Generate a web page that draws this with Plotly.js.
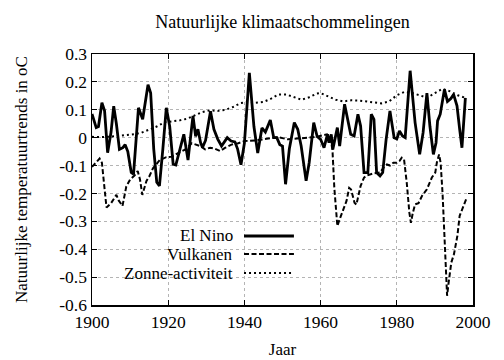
<!DOCTYPE html>
<html>
<head>
<meta charset="utf-8">
<script src="https://cdn.plot.ly/plotly-3.0.1.min.js"></script>
<style>html,body{margin:0;padding:0;background:#fff}#chart{width:504px;height:360px}</style>
</head>
<body>
<div id="chart"></div>
<script>
// El Nino (solid)
var elNinoYears = [1900.0,1900.5,1901.1,1901.7,1902.6,1903.3,1904.1,1905.0,1905.7,1906.4,1907.2,1908.1,1908.7,1909.4,1910.3,1910.9,1911.6,1912.2,1913.3,1914.7,1915.4,1916.2,1917.0,1917.7,1918.6,1919.5,1920.4,1921.3,1922.0,1923.0,1924.1,1925.2,1926.5,1927.2,1927.8,1928.5,1929.0,1929.8,1931.1,1932.0,1933.0,1934.0,1935.5,1936.5,1937.5,1938.2,1939.1,1940.0,1941.3,1942.5,1943.5,1944.6,1945.5,1946.8,1947.7,1948.5,1949.3,1950.0,1950.8,1951.8,1953.1,1954.0,1954.9,1956.2,1957.0,1958.2,1959.1,1960.0,1960.9,1961.8,1962.2,1962.8,1963.2,1964.4,1965.0,1966.3,1967.2,1967.9,1968.8,1969.8,1970.5,1971.4,1972.4,1973.3,1974.0,1974.7,1975.6,1976.3,1977.2,1978.2,1979.3,1980.0,1980.7,1981.5,1982.2,1983.5,1984.8,1986.0,1986.9,1987.9,1988.7,1989.6,1990.3,1990.7,1991.4,1992.5,1993.3,1994.2,1994.9,1995.8,1996.5,1997.1,1998.0];
var elNinoValues = [0.085,0.06,0.036,0.04,0.125,0.096,-0.054,0.02,0.113,0.05,-0.042,-0.036,-0.025,-0.05,-0.125,-0.131,0.0,0.107,0.066,0.19,0.16,-0.04,-0.16,-0.173,-0.04,0.107,0.04,-0.095,-0.098,-0.045,0.012,-0.08,0.078,0.005,0.03,-0.018,-0.035,-0.01,0.095,0.03,-0.005,-0.03,0.0,-0.012,-0.015,-0.04,-0.097,-0.02,0.232,0.04,-0.055,0.035,0.02,0.063,0.0,0.0,-0.025,-0.03,-0.167,-0.04,0.054,0.03,-0.03,-0.155,-0.09,0.054,0.004,-0.006,-0.036,0.012,-0.018,0.012,-0.042,0.036,-0.03,0.12,0.066,0.012,0.006,0.084,0.042,-0.125,-0.125,0.084,0.066,-0.125,-0.137,-0.125,-0.006,0.096,0.0,-0.004,0.024,0.006,0.0,0.24,0.054,-0.06,0.018,0.16,0.04,-0.06,-0.018,0.06,0.084,0.173,0.13,0.14,0.155,0.114,0.03,-0.036,0.143];

// Vulkanen (dashed)
var vulkYears = [1900,1901,1902,1902.6,1903.8,1905,1906.4,1907,1908,1909,1910,1911.2,1912,1912.6,1913.2,1914.3,1915,1916,1917.8,1919.5,1921,1922.6,1924.4,1926.2,1928.4,1929.7,1931,1932.3,1933.6,1935,1936.6,1938.4,1940.2,1942.8,1945.4,1948.9,1951.4,1954,1956.7,1959.3,1961,1961.7,1962.4,1963.1,1963.6,1964.4,1964.8,1965.9,1966.8,1967.5,1968,1968.9,1969.4,1970.5,1971.4,1972.3,1973.9,1975.6,1976.5,1977.4,1978.2,1979.1,1980,1980.7,1981.3,1981.9,1982.6,1983.3,1983.7,1984.2,1984.8,1985.7,1986.6,1987.9,1989.2,1990.1,1990.5,1991.1,1991.5,1992,1992.5,1992.9,1993.2,1993.6,1994.3,1995,1995.9,1996.5,1997.4,1998.2];
var vulkValues = [-0.105,-0.09,-0.075,-0.09,-0.25,-0.235,-0.205,-0.225,-0.245,-0.175,-0.15,-0.135,-0.12,-0.15,-0.205,-0.155,-0.14,-0.11,-0.08,-0.07,-0.068,-0.055,-0.043,-0.02,-0.03,-0.042,-0.036,-0.04,-0.048,-0.036,-0.025,-0.02,-0.012,-0.01,-0.004,0.002,-0.006,-0.004,0.0,0.004,0.008,0.012,0.004,-0.04,-0.18,-0.317,-0.3,-0.257,-0.227,-0.18,-0.186,-0.233,-0.24,-0.173,-0.143,-0.135,-0.128,-0.125,-0.108,-0.096,-0.1,-0.09,-0.09,-0.084,-0.072,-0.078,-0.16,-0.269,-0.305,-0.27,-0.239,-0.235,-0.209,-0.185,-0.143,-0.125,-0.09,-0.06,-0.09,-0.197,-0.352,-0.508,-0.567,-0.52,-0.448,-0.418,-0.352,-0.28,-0.251,-0.221];

// Zonne-activiteit (dotted)
var zonYears = [1900,1903,1906,1909,1911,1913,1915,1917,1919,1921,1923,1925,1927,1929,1931,1933,1935,1937,1939,1941,1943,1945,1947,1949,1951,1953,1955,1957,1959,1960,1962,1964,1966,1968,1970,1972,1974,1976,1978,1980,1982,1984,1986,1988,1990,1992,1994,1996,1998];
var zonValues = [0.003,0.002,0.005,0.008,0.012,0.018,0.028,0.04,0.055,0.058,0.062,0.068,0.08,0.092,0.098,0.096,0.1,0.11,0.124,0.128,0.125,0.128,0.14,0.155,0.155,0.145,0.136,0.145,0.158,0.16,0.148,0.136,0.13,0.134,0.133,0.13,0.128,0.123,0.13,0.152,0.164,0.16,0.152,0.143,0.16,0.175,0.166,0.152,0.143];

var seriesNames = ["El Nino", "Vulkanen", "Zonne-activiteit"];
var yTickVals = [0.3,0.2,0.1,0,-0.1,-0.2,-0.3,-0.4,-0.5,-0.6];
var yTickText = ["0.3","0.2","0.1","0","-0.1","-0.2","-0.3","-0.4","-0.5","-0.6"];
var xTickVals = [1900,1920,1940,1960,1980,2000];
var xTickText = ["1900","1920","1940","1960","1980","2000"];

var FONT = "Liberation Serif";
var styles = [
  {color:"#000", width:2.8, dash:"solid"},
  {color:"#000", width:2, dash:"5px,2.5px"},
  {color:"#000", width:2, dash:"2px,3px"}
];

var traces = [
  {x: elNinoYears, y: elNinoValues, name: seriesNames[0], mode:"lines", line: styles[0]},
  {x: vulkYears, y: vulkValues, name: seriesNames[1], mode:"lines", line: styles[1]},
  {x: zonYears, y: zonValues, name: seriesNames[2], mode:"lines", line: styles[2]}
];

// gnuplot-style legend (text left, line sample right)
var legRows = [0.275, 0.203, 0.127];
var annotations = [];
var shapes = [];
for (var i = 0; i < seriesNames.length; i++) {
  annotations.push({xref:"paper", yref:"paper", x:0.372, y:legRows[i], xanchor:"right", yanchor:"middle",
    text: seriesNames[i], showarrow:false, borderpad:0, font:{family:FONT, size:17, color:"#000"}});
  shapes.push({type:"line", xref:"paper", yref:"paper", x0:0.399, x1:0.530, y0:legRows[i], y1:legRows[i],
    line:{color:"#000", width:styles[i].width, dash:styles[i].dash}});
}

function axisBase() {
  return {
    showline:true, linecolor:"#000", linewidth:1.5, mirror:"ticks",
    ticks:"inside", ticklen:5, tickcolor:"#000", tickwidth:1,
    showgrid:true, gridcolor:"#b4b4b4", griddash:"dot", gridwidth:1,
    zeroline:false, tickfont:{family:FONT, size:17.5, color:"#000"}
  };
}

var layout = {
  width:504, height:360,
  margin:{l:92, r:31, t:54, b:55},
  paper_bgcolor:"#fff", plot_bgcolor:"#fff",
  showlegend:false,
  font:{family:FONT, size:17, color:"#000"},
  title:{text:"Natuurlijke klimaatschommelingen", font:{family:FONT, size:18, color:"#000"},
         x:0.5, xref:"paper", y:1-22/360, yref:"container", yanchor:"middle"},
  xaxis: Object.assign(axisBase(), {range:[1900,2000], tickvals:xTickVals, ticktext:xTickText,
         title:{text:"Jaar", font:{family:FONT, size:17, color:"#000"}, standoff:12}}),
  yaxis: Object.assign(axisBase(), {range:[-0.6,0.3], tickvals:yTickVals, ticktext:yTickText,
         title:{text:"Natuurlijke temperatuurtrends in oC", font:{family:FONT, size:17, color:"#000"}, standoff:27}}),
  annotations: annotations,
  shapes: shapes
};

Plotly.newPlot("chart", traces, layout, {staticPlot:true, displayModeBar:false});
</script>
</body>
</html>
